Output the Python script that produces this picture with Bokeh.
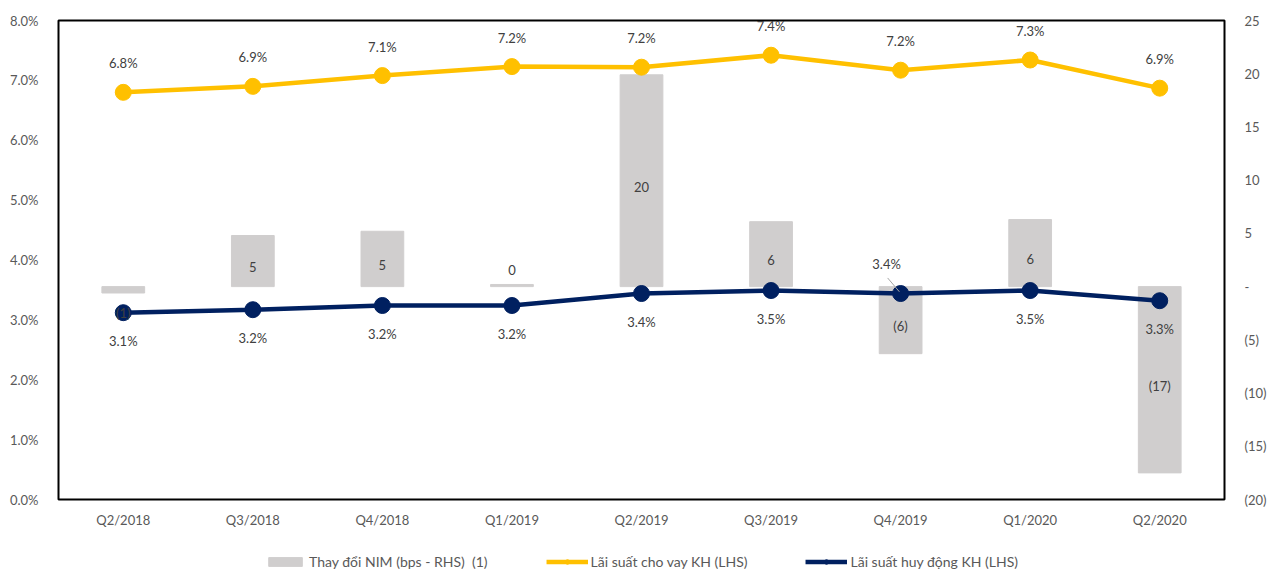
from bokeh.plotting import figure
from bokeh.models import (Range1d, LinearAxis, FixedTicker, ColumnDataSource, LabelSet,
                          Legend, LegendItem)
from bokeh.layouts import column
from bokeh.core.properties import value
from bokeh.transform import dodge
from bokeh.embed import file_html
from bokeh.resources import INLINE

quarters = ["Q2/2018", "Q3/2018", "Q4/2018", "Q1/2019", "Q2/2019",
            "Q3/2019", "Q4/2019", "Q1/2020", "Q2/2020"]
nim_change = [-0.6, 4.8, 5.2, 0.2, 19.9, 6.1, -6.3, 6.3, -17.5]
nim_labels = ["(1)", "5", "5", "0", "20", "6", "(6)", "6", "(17)"]
lending = [6.80, 6.90, 7.08, 7.23, 7.22, 7.42, 7.17, 7.34, 6.87]
lending_labels = ["6.8%", "6.9%", "7.1%", "7.2%", "7.2%", "7.4%", "7.2%", "7.3%", "6.9%"]
deposit = [3.12, 3.17, 3.24, 3.24, 3.44, 3.49, 3.44, 3.49, 3.32]
deposit_labels = ["3.1%", "3.2%", "3.2%", "3.2%", "3.4%", "3.5%", "3.4%", "3.5%", "3.3%"]
left_ticks = [0, 1, 2, 3, 4, 5, 6, 7, 8]
right_ticks = [-20, -15, -10, -5, 0, 5, 10, 15, 20, 25]
legend_labels = ["Thay đổi NIM (bps - RHS)  (1)", "Lãi suất cho vay KH (LHS)",
                 "Lãi suất huy động KH (LHS)"]

FONT = "Lato"
GREY_TXT = "#595959"
YELLOW = "#FFC000"
NAVY = "#002060"
BAR = "#D0CECE"

p = figure(x_range=quarters, y_range=Range1d(0, 8), width=1269, height=530,
           output_backend="svg", toolbar_location=None,
           min_border_left=58, min_border_top=20, min_border_bottom=31, min_border_right=44)
p.extra_y_ranges = {"rhs": Range1d(-20, 25)}

p.outline_line_color = "black"
p.outline_line_width = 2
p.xgrid.visible = False
p.ygrid.visible = False

for ax in [p.xaxis[0], p.yaxis[0]]:
    ax.axis_line_color = None
    ax.major_tick_line_color = None
    ax.minor_tick_line_color = None
    ax.major_label_text_font = FONT
    ax.major_label_text_font_size = "13px"
    ax.major_label_text_color = GREY_TXT
p.xaxis.major_label_standoff = 6
p.yaxis.major_label_standoff = 14
p.yaxis.ticker = FixedTicker(ticks=left_ticks)
p.yaxis.major_label_overrides = {t: f"{t:.1f}%" for t in left_ticks}

rax = LinearAxis(y_range_name="rhs", ticker=FixedTicker(ticks=right_ticks))
rax.major_label_overrides = {t: ("-" if t == 0 else (f"({-t})" if t < 0 else str(t))) for t in right_ticks}
rax.axis_line_color = None
rax.major_tick_line_color = None
rax.minor_tick_line_color = None
rax.major_label_text_font = FONT
rax.major_label_text_font_size = "13px"
rax.major_label_text_color = GREY_TXT
rax.major_label_standoff = 14
p.add_layout(rax, "right")

src = ColumnDataSource(dict(
    q=quarters, nim=nim_change, nim_mid=[v / 2 for v in nim_change], nim_lab=nim_labels,
    lend=lending, lend_lab=lending_labels, dep=deposit, dep_lab=deposit_labels,
    nim_off=[-23 if -1 < v < -0.1 else (16 if 0 <= v < 1 else -6) for v in nim_change],
    dep_off=[30 if i == 6 else -28 for i in range(len(quarters))],
    dep_xoff=[-14 if i == 6 else 0 for i in range(len(quarters))],
))

p.vbar(x="q", top="nim", bottom=0, width=0.33, color=BAR, y_range_name="rhs", source=src)
p.line(x="q", y="lend", line_color=YELLOW, line_width=4.5, source=src)
p.scatter(x="q", y="lend", size=16, color=YELLOW, source=src)
p.line(x="q", y="dep", line_color=NAVY, line_width=4.5, source=src)
p.scatter(x="q", y="dep", size=16, color=NAVY, source=src)

# leader line for Q4/2019 deposit label
lead = ColumnDataSource(dict(xq=[quarters[6]], y0=[deposit[6] + 0.26], y1=[deposit[6] + 0.03]))
p.segment(x0=dodge("xq", -0.10, range=p.x_range), y0="y0",
          x1=dodge("xq", -0.01, range=p.x_range), y1="y1",
          line_color="#A6A6A6", line_width=1, source=lead)

common = dict(text_font=value(FONT), text_font_size="13px", text_color="#404040",
              text_align="center", text_baseline="middle")
p.add_layout(LabelSet(x="q", y="nim_mid", text="nim_lab", y_range_name="rhs",
                      y_offset="nim_off", source=src, **common))
p.add_layout(LabelSet(x="q", y="lend", text="lend_lab", y_offset=29, source=src, **common))
p.add_layout(LabelSet(x="q", y="dep", text="dep_lab", y_offset="dep_off", x_offset="dep_xoff",
                      source=src, **common))

# legend strip: a second figure whose view range lies away from the series, so only the legend shows
lg = figure(width=1269, height=42, x_range=quarters, y_range=Range1d(100, 101),
            output_backend="svg", toolbar_location=None,
            min_border_left=0, min_border_right=0, min_border_top=0, min_border_bottom=0)
lg.axis.visible = False
lg.grid.visible = False
lg.outline_line_color = None
rb = lg.vbar(x="q", top="nim", bottom=0, width=0.33, color=BAR, source=src)
rl1 = lg.line(x="q", y="lend", line_color=YELLOW, line_width=4.5, source=src)
rs1 = lg.scatter(x="q", y="lend", size=16, color=YELLOW, source=src)
rl2 = lg.line(x="q", y="dep", line_color=NAVY, line_width=4.5, source=src)
rs2 = lg.scatter(x="q", y="dep", size=16, color=NAVY, source=src)

legend = Legend(items=[
    LegendItem(label=legend_labels[0], renderers=[rb]),
    LegendItem(label=legend_labels[1], renderers=[rl1, rs1]),
    LegendItem(label=legend_labels[2], renderers=[rl2, rs2]),
], orientation="horizontal", location="bottom_center")
legend.glyph_width = 42
legend.glyph_height = 11
legend.label_standoff = 3
legend.spacing = 58
legend.padding = 0
legend.margin = 2
legend.border_line_color = None
legend.background_fill_alpha = 0
legend.label_text_font = FONT
legend.label_text_font_size = "14px"
legend.label_text_color = GREY_TXT
legend.label_height = 16
lg.add_layout(legend, "center")

layout = column(p, lg, spacing=0)
open("out.html", "w").write(file_html(layout, INLINE))
